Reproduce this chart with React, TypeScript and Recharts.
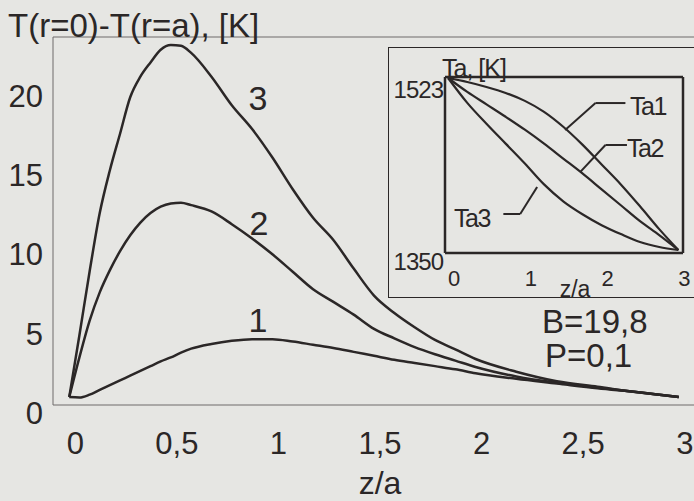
import { LineChart, Line, XAxis, YAxis, ReferenceLine } from 'recharts';

// z/a grid shared by the three temperature-difference curves
const zMain = [
  0, 0.05, 0.1, 0.15, 0.2, 0.25, 0.3, 0.35, 0.4, 0.45, 0.5, 0.55, 0.6, 0.7, 0.8, 0.9,
  1.0, 1.1, 1.2, 1.3, 1.4, 1.5, 1.6, 1.7, 1.8, 1.9, 2.0, 2.2, 2.4, 2.6, 2.8, 3.0,
];
const dT1 = [
  1.0, 0.97, 1.15, 1.45, 1.75, 2.05, 2.35, 2.65, 2.95, 3.25, 3.5, 3.8, 4.05, 4.35, 4.55, 4.65,
  4.65, 4.5, 4.3, 4.1, 3.85, 3.6, 3.35, 3.15, 2.95, 2.75, 2.5, 2.15, 1.85, 1.55, 1.3, 1.0,
];
const dT2 = [
  1.0, 3.5, 5.8, 7.6, 9.0, 10.2, 11.2, 12.0, 12.6, 13.0, 13.2, 13.25, 13.1, 12.7, 11.9, 11.0,
  10.0, 8.9, 7.8, 7.0, 6.2, 5.3, 4.7, 4.15, 3.7, 3.3, 2.9, 2.3, 1.9, 1.6, 1.3, 1.0,
];
const dT3 = [
  1.0, 4.9, 8.9, 12.6, 15.3, 17.6, 19.9, 21.2, 22.1, 22.9, 23.2, 23.15, 22.7, 21.2, 19.4, 17.9,
  16.1, 14.1, 12.3, 10.9, 9.1, 7.4, 6.3, 5.4, 4.6, 4.0, 3.4, 2.6, 2.0, 1.65, 1.3, 1.0,
];

// inset: coolant temperature along the channel
const zInset = [0, 0.25, 0.5, 0.75, 1.0, 1.25, 1.5, 1.75, 2.0, 2.25, 2.5, 2.75, 3.0];
const ta1 = [1523, 1519, 1514, 1508, 1500, 1489, 1474, 1456, 1436, 1416, 1394, 1371, 1350];
const ta2 = [1523, 1509, 1496.5, 1484, 1471, 1457, 1442, 1427, 1411, 1395, 1379, 1365, 1350];
const ta3 = [1523, 1498, 1477, 1457, 1437, 1416, 1399, 1386, 1375, 1366, 1358, 1353, 1350];

const mainXTicks = [0, 0.5, 1, 1.5, 2, 2.5, 3];
const mainYTicks = [0, 5, 10, 15, 20];
const mainYRightTicks = [1, 6, 11, 16, 21];
const insetXTicks = [0, 1, 2, 3];
const insetYTicks = [1350, 1523];

const range = (a: number, b: number, step: number) => {
  const out: number[] = [];
  for (let i = 0; a + i * step <= b + 1e-9; i++) out.push(+(a + i * step).toFixed(3));
  return out;
};
const minorZ = range(0, 3, 0.1);
const minorDT = range(1, 23, 1);
const insetMinorZ = range(0, 3, 0.05);
const insetMinorT = range(1350, 1520, 5);

const mainRows = zMain.map((z, i) => ({ z, c1: dT1[i], c2: dT2[i], c3: dT3[i] }));
const insetRows = zInset.map((z, i) => ({ z, ta1: ta1[i], ta2: ta2[i], ta3: ta3[i] }));

const BG = '#e6e6e3';
const INK = '#2b2727';
const AXIS = '#6f6b6a';
const FONT = '"Liberation Sans", Arial, Helvetica, sans-serif';

const comma = (v: number) => String(v).replace('.', ',');

function MainXTick({ x, y, payload }: any) {
  return (
    <text x={x + 6} y={y + 27} dy="0.71em" textAnchor="middle" fontSize={31} fill={INK} fontFamily={FONT}>
      {comma(payload.value)}
    </text>
  );
}

function MainYTick({ x, y, payload }: any) {
  return (
    <text x={x - 10} y={y} dy="0.36em" textAnchor="end" fontSize={31} fill={INK} fontFamily={FONT}>
      {payload.value}
    </text>
  );
}

function InsetXTick({ x, y, payload }: any) {
  return (
    <text x={x + 6} y={y + 17} dy="0.71em" textAnchor="middle" fontSize={22} fill={INK} fontFamily={FONT}>
      {payload.value}
    </text>
  );
}

function InsetYTick({ x, y, payload }: any) {
  return (
    <text x={x - 2} y={y + 11} dy="0.36em" textAnchor="end" fontSize={24} letterSpacing={-1} fill={INK} fontFamily={FONT}>
      {payload.value}
    </text>
  );
}

const xDom: [number, number] = [-0.08, 3.075];
const yDom: [number, number] = [0.5, 23.7];
const ixDom: [number, number] = [-0.04, 3.06];
const iyDom: [number, number] = [1347, 1524];

// leader lines from the Ta labels to their curves
const leaders = [
  [{ x: 1.525, y: 1470.7 }, { x: 1.92, y: 1497.8 }],
  [{ x: 1.92, y: 1497.8 }, { x: 2.31, y: 1497.8 }],
  [{ x: 1.72, y: 1428.4 }, { x: 2.05, y: 1455.6 }],
  [{ x: 2.05, y: 1455.6 }, { x: 2.33, y: 1455.6 }],
  [{ x: 0.72, y: 1386.2 }, { x: 0.94, y: 1386.2 }],
  [{ x: 0.94, y: 1386.2 }, { x: 1.16, y: 1413.3 }],
];

export default function App() {
  return (
    <div style={{ position: 'fixed', left: 0, top: 0, width: 694, height: 501, background: BG, fontFamily: FONT, overflow: 'hidden' }}>
      <div style={{ position: 'absolute', left: 0, top: 0 }}>
        <LineChart width={694} height={501} data={mainRows} margin={{ top: 37, right: 0, bottom: 0, left: 0 }}>
          <XAxis
            dataKey="z"
            type="number"
            domain={xDom}
            allowDataOverflow
            ticks={mainXTicks}
            interval={0}
            height={96}
            tickSize={0}
            tickMargin={0}
            tickLine={false}
            axisLine={{ stroke: AXIS, strokeWidth: 1 }}
            tick={<MainXTick />}
          />
          <XAxis xAxisId="bottomMinor" type="number" domain={xDom} allowDataOverflow ticks={minorZ} interval={0}
            mirror height={1} tick={false} tickSize={4} axisLine={false} tickLine={{ stroke: AXIS }} />
          <XAxis xAxisId="top" orientation="top" type="number" domain={xDom} allowDataOverflow ticks={minorZ} interval={0}
            mirror height={1} tick={false} tickSize={4} axisLine={{ stroke: AXIS }} tickLine={{ stroke: AXIS }} />
          <YAxis
            type="number"
            domain={yDom}
            allowDataOverflow
            ticks={mainYTicks}
            interval={0}
            width={53}
            tickSize={0}
            tickMargin={0}
            tickLine={false}
            axisLine={{ stroke: AXIS, strokeWidth: 1 }}
            tick={<MainYTick />}
          />
          <YAxis yAxisId="leftMinor" type="number" domain={yDom} allowDataOverflow ticks={minorDT} interval={0}
            mirror width={1} tick={false} tickSize={4} axisLine={false} tickLine={{ stroke: AXIS }} />
          <YAxis yAxisId="right" orientation="right" type="number" domain={yDom} allowDataOverflow ticks={mainYRightTicks} interval={0}
            mirror width={1} tick={false} tickSize={6} axisLine={false} tickLine={{ stroke: AXIS }} />
          <Line type="monotone" dataKey="c1" stroke={INK} strokeWidth={2.5} dot={false} isAnimationActive={false} />
          <Line type="monotone" dataKey="c2" stroke={INK} strokeWidth={2.5} dot={false} isAnimationActive={false} />
          <Line type="monotone" dataKey="c3" stroke={INK} strokeWidth={2.5} dot={false} isAnimationActive={false} />
        </LineChart>
      </div>

      {/* inset frame */}
      <div style={{ position: 'absolute', left: 388, top: 47, width: 320, height: 251, boxSizing: 'border-box',
        border: `1.5px solid ${INK}`, background: BG }} />

      <div style={{ position: 'absolute', left: 388, top: 47 }}>
        <LineChart width={306} height={251} data={insetRows} margin={{ top: 30, right: 11, bottom: 0, left: 0 }}>
          <XAxis
            dataKey="z"
            type="number"
            domain={ixDom}
            allowDataOverflow
            ticks={insetXTicks}
            interval={0}
            height={45}
            tickSize={0}
            tickMargin={0}
            tickLine={false}
            axisLine={{ stroke: INK, strokeWidth: 2.5 }}
            tick={<InsetXTick />}
          />
          <XAxis xAxisId="bottomMinor" type="number" domain={ixDom} allowDataOverflow ticks={insetMinorZ} interval={0}
            mirror height={1} tick={false} tickSize={3} axisLine={false} tickLine={{ stroke: AXIS }} />
          <XAxis xAxisId="top" orientation="top" type="number" domain={ixDom} allowDataOverflow ticks={insetMinorZ} interval={0}
            mirror height={1} tick={false} tickSize={3} axisLine={{ stroke: INK, strokeWidth: 2.5 }} tickLine={{ stroke: AXIS }} />
          <YAxis
            type="number"
            domain={iyDom}
            allowDataOverflow
            ticks={insetYTicks}
            interval={0}
            width={57}
            tickSize={0}
            tickMargin={0}
            tickLine={false}
            axisLine={{ stroke: INK, strokeWidth: 2.5 }}
            tick={<InsetYTick />}
          />
          <YAxis yAxisId="leftMinor" type="number" domain={iyDom} allowDataOverflow ticks={insetMinorT} interval={0}
            mirror width={1} tick={false} tickSize={3} axisLine={false} tickLine={{ stroke: AXIS }} />
          <YAxis yAxisId="right" orientation="right" type="number" domain={iyDom} allowDataOverflow ticks={insetMinorT} interval={0}
            mirror width={1} tick={false} tickSize={3} axisLine={{ stroke: INK, strokeWidth: 2.5 }} tickLine={{ stroke: AXIS }} />
          {leaders.map((seg, i) => (
            <ReferenceLine key={i} segment={seg} stroke={INK} strokeWidth={2} />
          ))}
          <Line type="monotone" dataKey="ta1" stroke={INK} strokeWidth={2.2} dot={false} isAnimationActive={false} />
          <Line type="monotone" dataKey="ta2" stroke={INK} strokeWidth={2.2} dot={false} isAnimationActive={false} />
          <Line type="monotone" dataKey="ta3" stroke={INK} strokeWidth={2.2} dot={false} isAnimationActive={false} />
        </LineChart>
      </div>

      <svg width={694} height={501} style={{ position: 'absolute', left: 0, top: 0, pointerEvents: 'none' }}
        fontFamily={FONT} fill={INK}>
        <text x={8} y={37} fontSize={33}>T(r=0)-T(r=a), [K]</text>
        <text x={258} y={110} fontSize={34} textAnchor="middle">3</text>
        <text x={259} y={235} fontSize={34} textAnchor="middle">2</text>
        <text x={258} y={332} fontSize={34} textAnchor="middle">1</text>
        <text x={380} y={494} fontSize={32} textAnchor="middle">z/a</text>
        <text x={542} y={333} fontSize={33}>B=19,8</text>
        <text x={545} y={367} fontSize={33}>P=0,1</text>
        <text x={442} y={77} fontSize={25} letterSpacing={-1}>Ta, [K]</text>
        <text x={630} y={115} fontSize={25} letterSpacing={-1.5}>Ta1</text>
        <text x={627} y={157} fontSize={25} letterSpacing={-1.5}>Ta2</text>
        <text x={454} y={227} fontSize={25} letterSpacing={-1.5}>Ta3</text>
        <text x={575} y={297} fontSize={23} textAnchor="middle">z/a</text>
      </svg>
    </div>
  );
}
